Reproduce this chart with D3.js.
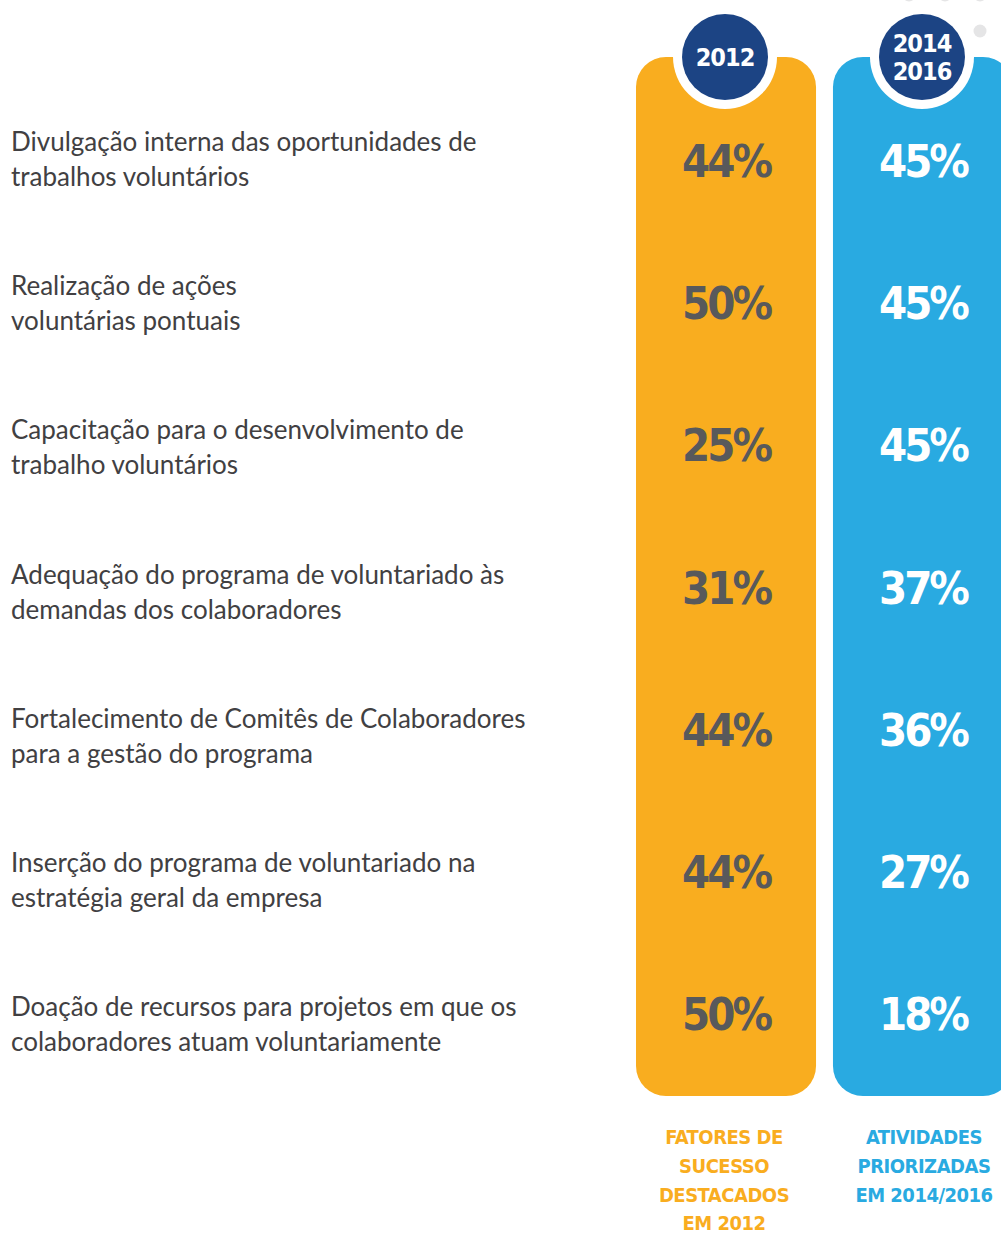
<!DOCTYPE html>
<html>
<head>
<meta charset="utf-8">
<script src="https://cdn.jsdelivr.net/npm/d3@7"></script>
<style>
  body { margin: 0; background: #fff; }
  svg { display: block; }
</style>
</head>
<body>
<div id="chart"></div>
<script>
const categories = [
    ['Divulgação interna das oportunidades de', 'trabalhos voluntários'],
    ['Realização de ações', 'voluntárias pontuais'],
    ['Capacitação para o desenvolvimento de', 'trabalho voluntários'],
    ['Adequação do programa de voluntariado às', 'demandas dos colaboradores'],
    ['Fortalecimento de Comitês de Colaboradores', 'para a gestão do programa'],
    ['Inserção do programa de voluntariado na', 'estratégia geral da empresa'],
    ['Doação de recursos para projetos em que os', 'colaboradores atuam voluntariamente']
];
const series = ['2012', '2014/2016'];
const values2012 = [44, 50, 25, 31, 44, 44, 50];
const values2016 = [45, 45, 45, 37, 36, 27, 18];
const badgeLabels = [['2012'], ['2014', '2016']];
const footLabels = [
    ['FATORES DE', 'SUCESSO', 'DESTACADOS', 'EM 2012'],
    ['ATIVIDADES', 'PRIORIZADAS', 'EM 2014/2016']
];

const colors = { '2012': '#f9ad1f', '2014/2016': '#29aae1' };
const valueColors = { '2012': '#58595b', '2014/2016': '#ffffff' };
const navy = '#1c4484';
const condensed = '"DejaVu Sans Condensed", "DejaVu Sans", sans-serif';

const width = 1001, height = 1234;

const svg = d3.select('#chart').append('svg')
    .attr('width', width)
    .attr('height', height);

const x = d3.scaleBand()
    .domain(series)
    .range([636, 1013])
    .paddingInner(0.086);

// value rows and label rows are spaced a little differently in the original
const y = d3.scalePoint()
    .domain(d3.range(categories.length))
    .range([160, 1013]);

const yLabel = d3.scalePoint()
    .domain(d3.range(categories.length))
    .range([142, 1007]);

const colTop = 57, colBottom = 1096;

// decorative dots top right
svg.selectAll('.deco')
    .data([[909, -5], [945, -5], [980, -5], [980, 31]])
    .join('circle')
    .attr('class', 'deco')
    .attr('cx', d => d[0])
    .attr('cy', d => d[1])
    .attr('r', 6.5)
    .attr('fill', '#e5e5e6');

// columns
svg.selectAll('.col')
    .data(series)
    .join('rect')
    .attr('class', 'col')
    .attr('x', d => x(d))
    .attr('y', colTop)
    .attr('width', x.bandwidth())
    .attr('height', colBottom - colTop)
    .attr('rx', 30)
    .attr('fill', d => colors[d]);

// badges
const badge = svg.selectAll('.badge')
    .data(series)
    .join('g')
    .attr('class', 'badge')
    .attr('transform', d => `translate(${x(d) + x.bandwidth() / 2 - 1},${colTop})`);

badge.append('circle').attr('r', 52).attr('fill', '#fff');
badge.append('circle').attr('r', 43).attr('fill', navy);
badge.each(function(d, i) {
    const lines = badgeLabels[i];
    d3.select(this).selectAll('text')
        .data(lines)
        .join('text')
        .attr('text-anchor', 'middle')
        .attr('y', (l, j) => (j - (lines.length - 1) / 2) * 28 + 9)
        .style('font-family', condensed)
        .style('font-weight', 'bold')
        .style('font-size', '25px')
        .style('letter-spacing', '-1px')
        .attr('fill', '#fff')
        .text(l => l);
});

// values
const allValues = { '2012': values2012, '2014/2016': values2016 };
series.forEach((s, k) => {
    svg.selectAll(`.val-${k}`)
        .data(allValues[s])
        .join('text')
        .attr('class', `val-${k}`)
        .attr('x', x(s) + x.bandwidth() / 2)
        .attr('y', (d, i) => y(i) + 17)
        .attr('text-anchor', 'middle')
        .style('font-family', condensed)
        .style('font-weight', 'bold')
        .style('font-size', '45px')
        .style('letter-spacing', '-3px')
        .attr('fill', valueColors[s])
        .text(d => d + '%');
});

// category labels
const labels = svg.selectAll('.cat')
    .data(categories)
    .join('text')
    .attr('class', 'cat')
    .attr('x', 11)
    .attr('y', (d, i) => yLabel(i) + 9)
    .style('font-family', 'Lato, sans-serif')
    .style('font-size', '26px')
    .attr('fill', '#414042');

labels.selectAll('tspan')
    .data(d => d)
    .join('tspan')
    .attr('x', 11)
    .attr('dy', (d, j) => j === 0 ? 0 : 35)
    .text(d => d);

// footer labels
series.forEach((s, i) => {
    svg.selectAll(`.foot-${i}`)
        .data(footLabels[i])
        .join('text')
        .attr('class', `foot-${i}`)
        .attr('x', x(s) + x.bandwidth() / 2 + (i === 0 ? -2 : 1))
        .attr('y', (d, j) => 1144 + j * 28.8)
        .attr('text-anchor', 'middle')
        .style('font-family', condensed)
        .style('font-weight', 'bold')
        .style('font-size', '20px')
        .style('letter-spacing', '-0.5px')
        .attr('fill', colors[s])
        .text(d => d);
});
</script>
</body>
</html>
